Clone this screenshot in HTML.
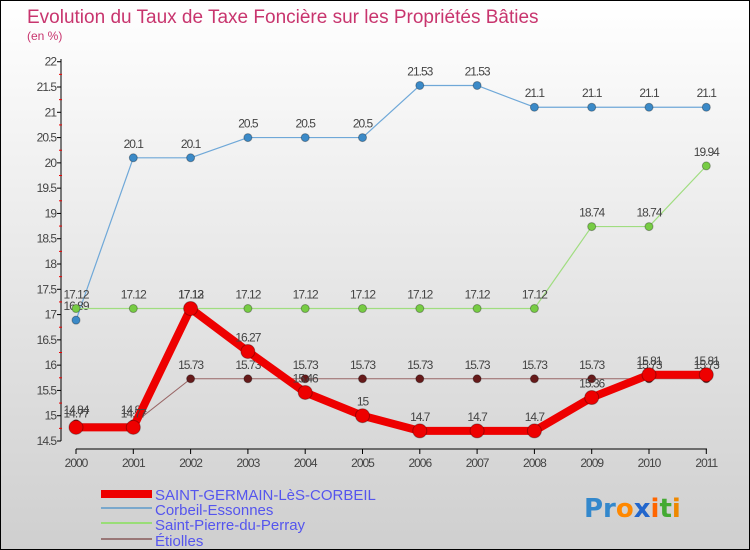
<!DOCTYPE html>
<html><head><meta charset="utf-8"><style>
html,body{margin:0;padding:0}
body{width:750px;height:550px;overflow:hidden;font-family:"Liberation Sans",sans-serif}
#wrap{position:relative;width:748px;height:548px;border:1px solid #000;background:linear-gradient(#ffffff,#cfcfcf)}
</style></head><body>
<div id="wrap">
<svg id="chart" width="748" height="548" style="position:absolute;left:0;top:0">
<text x="26" y="22" font-size="19" fill="#c8356e">Evolution du Taux de Taxe Foncière sur les Propriétés Bâties</text>
<text x="26" y="39" font-size="12" fill="#c8356e">(en %)</text>
<g id="axes"></g><g id="series"></g>
<g>
<rect x="100" y="489" width="51" height="8" fill="#ee0000"/>
<text x="154" y="499" font-size="15" fill="#5555ee">SAINT-GERMAIN-LèS-CORBEIL</text>
<rect x="100" y="506" width="51" height="2" fill="#7aa8cc"/>
<text x="154" y="514" font-size="15" fill="#5555ee">Corbeil-Essonnes</text>
<rect x="100" y="521" width="51" height="2" fill="#99dd77"/>
<text x="154" y="529" font-size="15" fill="#5555ee">Saint-Pierre-du-Perray</text>
<rect x="100" y="537" width="51" height="2" fill="#997777"/>
<text x="154" y="545" font-size="15" fill="#5555ee">Étiolles</text>
</g>
<g font-size="26" font-weight="bold" font-family="'DejaVu Sans',sans-serif">
<text x="583" y="516"><tspan fill="#3388cc">Pr</tspan><tspan fill="#ff8800">o</tspan><tspan fill="#2266cc">x</tspan><tspan fill="#ff6600">i</tspan><tspan fill="#44aa33">t</tspan><tspan fill="#ee8800">i</tspan></text>
</g>
</svg>
</div>
<script>
const years=[2000,2001,2002,2003,2004,2005,2006,2007,2008,2009,2010,2011];
const yTicks=[14.5,15,15.5,16,16.5,17,17.5,18,18.5,19,19.5,20,20.5,21,21.5,22];
const sgValues=[14.77,14.77,17.12,16.27,15.46,15,14.7,14.7,14.7,15.36,15.81,15.81];
const sgLabels=["14.77","14.77","17.13","16.27","15.46","15","14.7","14.7","14.7","15.36","15.81","15.81"];
const corbeilValues=[16.89,20.1,20.1,20.5,20.5,20.5,21.53,21.53,21.1,21.1,21.1,21.1];
const spValues=[17.12,17.12,17.12,17.12,17.12,17.12,17.12,17.12,17.12,18.74,18.74,19.94];
const etiollesValues=[14.84,14.84,15.73,15.73,15.73,15.73,15.73,15.73,15.73,15.73,15.73,15.73];
const NS="http://www.w3.org/2000/svg";
function xs(i){return 75+i*57.3;}
function ys(v){return 440-(v-14.5)*50.57;}
function mk(tag,attrs,parent){const e=document.createElementNS(NS,tag);for(const k in attrs)e.setAttribute(k,attrs[k]);parent.appendChild(e);return e;}
const ax=document.getElementById('axes');
const yAxis=mk('line',{x1:60,y1:58,x2:60,y2:440,stroke:'#000'},ax);


yTicks.forEach((t,i)=>{
 const y=ys(t);
 mk('line',{x1:56,y1:y,x2:60,y2:y,stroke:'#000'},ax);
 if(i<yTicks.length-1){mk('line',{x1:58,y1:ys(t+0.25),x2:61,y2:ys(t+0.25),stroke:'#e00'},ax);}
 const tx=mk('text',{x:55,y:y+4,'font-size':12,fill:'#444','text-anchor':'end','letter-spacing':'-1'},ax);
 tx.textContent=String(t);
 
 
});
const xAxis=mk('line',{x1:75,y1:448,x2:706,y2:448,stroke:'#000'},ax);


years.forEach((yr,i)=>{
 mk('line',{x1:xs(i),y1:448,x2:xs(i),y2:453,stroke:'#000'},ax);
 const tx=mk('text',{x:xs(i),y:466,'font-size':12,fill:'#444','text-anchor':'middle','letter-spacing':'-1'},ax);
 tx.textContent=yr;
 
 
});
const sg=document.getElementById('series');
function series(vals,labels,color,dot,width,r,name){
 const g=mk('g',{},sg);
 
 
 const pl=mk('polyline',{points:vals.map((v,i)=>xs(i)+','+ys(v)).join(' '),fill:'none',stroke:color,'stroke-width':width,'stroke-linejoin':'round'},g);
 
 
 vals.forEach((v,i)=>{
  const c=mk('circle',{cx:xs(i),cy:ys(v),r:r,fill:dot,stroke:'rgba(0,0,0,0.3)'},g);
  
  
  const t=mk('text',{x:xs(i),y:ys(v)-10,'font-size':12,fill:'#444','text-anchor':'middle','letter-spacing':'-1'},g);
  t.textContent=labels?labels[i]:String(v);
  
  
 });
}
series(corbeilValues,null,'#6fa8d8','#3b8ac8',1.2,4,'series-corbeil');
series(spValues,null,'#a0dd80','#77cc44',1.2,4,'series-saint-pierre');
series(etiollesValues,null,'#996666','#661a1a',1,4,'series-etiolles');
series(sgValues,sgLabels,'#ee0000','#ee0000',8,7,'series-saint-germain');
</script>
</body></html>
